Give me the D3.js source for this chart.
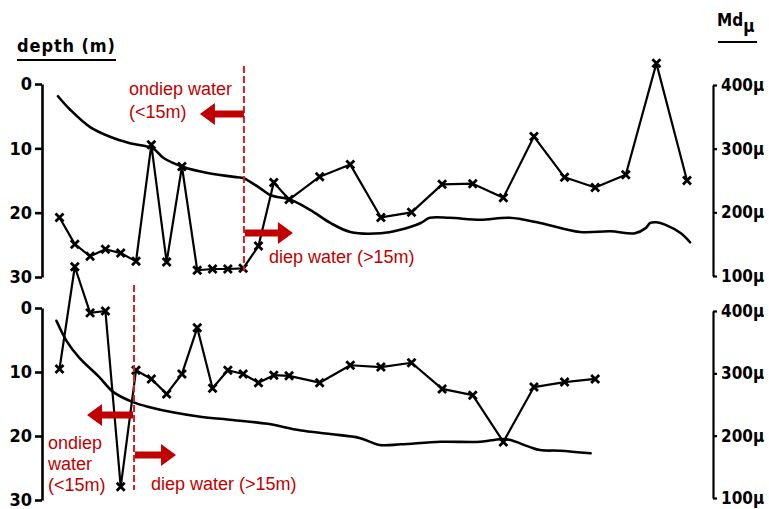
<!DOCTYPE html>
<html>
<head>
<meta charset="utf-8">
<script src="https://cdn.jsdelivr.net/npm/d3@7"></script>
<style>
  html, body { margin: 0; padding: 0; background: #fff; }
  svg { display: block; }
  .tick text { fill: #000; }
</style>
</head>
<body>
<svg id="chart" width="769" height="509"></svg>
<script>
// Sampling stations along the transect (station units); shared by both profiles
const topStations = [0,1,2,3,4,5,6,7,8,9,10,11,12,13,14,15,17,19,21,23,25,27,29,31,33,35,37,39,41];
const bottomStations = [0,1,2,3,4,5,6,7,8,9,10,11,12,13,14,15,17,19,21,23,25,27,29,31,33,35];

// Median grain size (Md, in micron) at each station
const topMd = [192,150,131,142,136,123,306,122,272,109,111,111,112,147,247,220,256,275,192,200,244,245,223,319,255,239,259,434,250];
const bottomMd = [307,471,397,400,118,305,291,267,299,373,276,305,299,285,297,296,285,313,310,317,275,265,190,278,286,291];

// Bottom depth profiles (position in station units, depth in m)
const topProfilePos = [-0.1,0.7,2.0,3.3,4.6,6.1,6.8,8.1,9.6,11.6,12.0,13.1,13.8,15.1,16.4,17.7,19.0,21.0,22.2,23.6,24.2,25.5,27.5,29.4,31.4,34.0,36.0,37.6,38.3,38.6,39.0,39.6,40.6,41.2];
const topProfileDepth = [1.9,4.0,6.7,8.2,9.2,10.0,11.5,12.9,13.8,14.5,14.6,16.2,17.3,18.0,19.6,21.6,23.0,23.2,22.7,21.6,20.8,20.8,21.1,20.8,21.6,23.0,22.9,23.2,22.4,21.6,21.5,21.9,23.2,24.6];
const bottomProfilePos = [-0.2,0.5,1.3,2.6,3.5,4.8,5.9,7.4,9.2,11.3,13.6,15.7,17.7,19.6,20.9,22.3,24.9,27.5,28.8,29.4,30.7,31.4,32.7,34.7];
const bottomProfileDepth = [2.0,5.3,7.8,10.8,13.1,14.7,15.5,16.3,17.0,17.5,18.1,19.1,19.7,20.3,21.4,21.3,20.9,20.9,20.5,20.6,21.7,22.2,22.3,22.7];

// Where each profile crosses the 15 m line (station units)
const boundaryPos = [12.05, 4.87];

// Axis ticks
const depthTicks = [0, 10, 20, 30];
const mdTicks = [100, 200, 300, 400];

const RED = "#c00000";
const DASH_RED = "#d21f1f";

const svg = d3.select("#chart");
const x = d3.scaleLinear().domain([0, 41]).range([59.5, 687]);

const panels = [
  { stations: topStations, md: topMd, pPos: topProfilePos, pDepth: topProfileDepth,
    depthRange: [84, 277], mdRange: [276, 85], boundary: boundaryPos[0] },
  { stations: bottomStations, md: bottomMd, pPos: bottomProfilePos, pDepth: bottomProfileDepth,
    depthRange: [308, 500], mdRange: [498, 311], boundary: boundaryPos[1] }
];

panels.forEach(p => {
  p.yD = d3.scaleLinear().domain([0, 30]).range(p.depthRange);
  p.yM = d3.scaleLinear().domain([100, 400]).range(p.mdRange);
});

// Axes
panels.forEach(p => {
  const left = svg.append("g")
    .attr("transform", "translate(42,0)")
    .call(d3.axisLeft(p.yD).tickValues(depthTicks).tickSize(7).tickSizeOuter(0).tickPadding(3));
  left.select(".domain").attr("stroke", "#000").attr("stroke-width", 2.6);
  left.selectAll(".tick line").attr("stroke", "#000").attr("stroke-width", 2.6);
  left.selectAll(".tick text")
    .attr("font-family", "'DejaVu Sans Condensed', 'DejaVu Sans', sans-serif")
    .attr("font-weight", "bold").attr("font-size", 18);

  const right = svg.append("g")
    .attr("transform", "translate(713,0)")
    .call(d3.axisRight(p.yM).tickValues(mdTicks).tickFormat(d => d + "μ").tickSize(4).tickSizeOuter(0).tickPadding(4));
  right.select(".domain").attr("stroke", "#000").attr("stroke-width", 2.2);
  right.selectAll(".tick line").attr("stroke", "#000").attr("stroke-width", 2.2);
  right.selectAll(".tick text")
    .attr("font-family", "'DejaVu Sans Condensed', 'DejaVu Sans', sans-serif")
    .attr("font-weight", "bold").attr("font-size", 17);
});

// Depth profiles
panels.forEach(p => {
  const pts = p.pPos.map((d, i) => [d, p.pDepth[i]]);
  svg.append("path")
    .datum(pts)
    .attr("fill", "none").attr("stroke", "#000").attr("stroke-width", 2.6)
    .attr("stroke-linejoin", "round").attr("stroke-linecap", "round")
    .attr("d", d3.line().x(d => x(d[0])).y(d => p.yD(d[1])).curve(d3.curveCatmullRom));
});

// Grain-size series with x markers
panels.forEach(p => {
  const pts = p.stations.map((s, i) => [s, p.md[i]]);
  svg.append("path")
    .datum(pts)
    .attr("fill", "none").attr("stroke", "#000").attr("stroke-width", 2.2)
    .attr("stroke-linejoin", "round")
    .attr("d", d3.line().x(d => x(d[0])).y(d => p.yM(d[1])));
  const s = 4;
  svg.append("g").selectAll("path.mk").data(pts).join("path")
    .attr("class", "mk")
    .attr("transform", d => `translate(${x(d[0])},${p.yM(d[1])})`)
    .attr("d", `M${-s},${-s}L${s},${s}M${-s},${s}L${s},${-s}`)
    .attr("stroke", "#000").attr("stroke-width", 2.8).attr("fill", "none");
});

// Axis titles
const titleFont = "'DejaVu Sans Condensed', 'DejaVu Sans', sans-serif";
svg.append("text").attr("x", 17).attr("y", 52)
  .attr("font-family", titleFont).attr("font-weight", "bold").attr("font-size", 18)
  .attr("textLength", 98).attr("lengthAdjust", "spacing")
  .text("depth (m)");
svg.append("line").attr("x1", 17).attr("x2", 116).attr("y1", 60).attr("y2", 60)
  .attr("stroke", "#000").attr("stroke-width", 2.2);

const md = svg.append("text").attr("x", 717).attr("y", 26)
  .attr("font-family", titleFont).attr("font-weight", "bold").attr("font-size", 17);
md.append("tspan").text("Md");
md.append("tspan").attr("dy", 6).attr("font-size", 17).text("μ");
svg.append("line").attr("x1", 718).attr("x2", 757).attr("y1", 42).attr("y2", 42)
  .attr("stroke", "#000").attr("stroke-width", 2);

// Shallow / deep water annotations
function arrow(x0, x1, yc) {
  // shaft from x0 toward x1, head at x1
  const dir = Math.sign(x1 - x0);
  const headLen = 15, headH = 11, shaftH = 3.5;
  const xh = x1 - dir * headLen;
  return `M${x0},${yc - shaftH}L${xh},${yc - shaftH}L${xh},${yc - headH}L${x1},${yc}` +
         `L${xh},${yc + headH}L${xh},${yc + shaftH}L${x0},${yc + shaftH}Z`;
}

const redFont = "'Liberation Sans', Arial, sans-serif";

// top panel
{
  const p = panels[0];
  const bx = x(p.boundary);
  svg.append("line").attr("x1", bx).attr("x2", bx).attr("y1", 66).attr("y2", 271)
    .attr("stroke", DASH_RED).attr("stroke-width", 2).attr("stroke-dasharray", "7,3");
  svg.append("path").attr("d", arrow(bx, bx - 44, 114)).attr("fill", RED);
  svg.append("path").attr("d", arrow(bx + 1, bx + 49, 233)).attr("fill", RED);
  const t = svg.append("text").attr("font-family", redFont).attr("font-size", 18).attr("fill", RED);
  t.append("tspan").attr("x", 129).attr("y", 95).text("ondiep water");
  t.append("tspan").attr("x", 129).attr("y", 118).text("(<15m)");
  svg.append("text").attr("x", 269).attr("y", 263)
    .attr("font-family", redFont).attr("font-size", 18).attr("fill", RED)
    .text("diep water (>15m)");
}

// bottom panel
{
  const p = panels[1];
  const bx = x(p.boundary);
  svg.append("line").attr("x1", bx).attr("x2", bx).attr("y1", 285).attr("y2", 490)
    .attr("stroke", DASH_RED).attr("stroke-width", 2).attr("stroke-dasharray", "7,3");
  svg.append("path").attr("d", arrow(bx - 1, bx - 47, 415)).attr("fill", RED);
  svg.append("path").attr("d", arrow(bx + 1, bx + 42, 455)).attr("fill", RED);
  const t = svg.append("text").attr("font-family", redFont).attr("font-size", 18).attr("fill", RED);
  t.append("tspan").attr("x", 48).attr("y", 449).text("ondiep");
  t.append("tspan").attr("x", 48).attr("y", 470).text("water");
  t.append("tspan").attr("x", 48).attr("y", 491).text("(<15m)");
  svg.append("text").attr("x", 151).attr("y", 490)
    .attr("font-family", redFont).attr("font-size", 18).attr("fill", RED)
    .text("diep water (>15m)");
}
</script>
</body>
</html>
